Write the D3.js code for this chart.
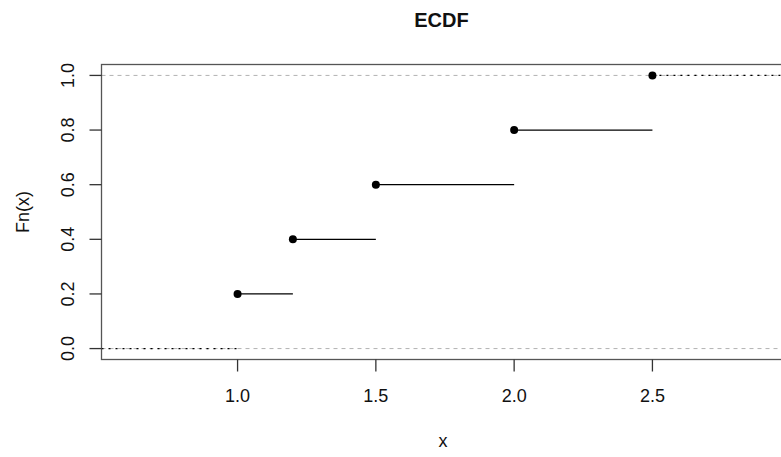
<!DOCTYPE html>
<html><head><meta charset="utf-8">
<script src="https://cdn.jsdelivr.net/npm/d3@7"></script>
<style>body{margin:0;background:#fff}svg{display:block}text{font-family:"Liberation Sans",Arial,sans-serif}</style>
</head><body>
<script>
const knots = [1.0, 1.2, 1.5, 2.0, 2.5];
const fnValues = [0.2, 0.4, 0.6, 0.8, 1.0];
const xTicks = [1.0, 1.5, 2.0, 2.5];
const yTicks = [0.0, 0.2, 0.4, 0.6, 0.8, 1.0];
const hLines = [0, 1];
const xDomain = [0.508, 2.992];
const yDomain = [-0.04, 1.04];

const W = 781, H = 457;
const svg = d3.select("body").append("svg").attr("width", W).attr("height", H);
const x = d3.scaleLinear().domain(xDomain).range([101.5, 788.5]);
const y = d3.scaleLinear().domain(yDomain).range([359.5, 64.5]);

// reference lines
svg.selectAll("line.h").data(hLines).join("line")
  .attr("x1", x(xDomain[0])).attr("x2", x(xDomain[1]))
  .attr("y1", d => y(d)).attr("y2", d => y(d))
  .attr("stroke", "#b3b3b3").attr("stroke-dasharray", "4,4").attr("stroke-width", 1);

// step segments
const segs = knots.map((k, i) => ({x0: k, x1: i < knots.length - 1 ? knots[i + 1] : null, v: fnValues[i]}))
  .filter(d => d.x1 !== null);
svg.selectAll("line.seg").data(segs).join("line")
  .attr("x1", d => x(d.x0)).attr("x2", d => x(d.x1))
  .attr("y1", d => y(d.v)).attr("y2", d => y(d.v))
  .attr("stroke", "#000").attr("stroke-width", 1.3);

// dotted extensions
const ext = [
  {x0: xDomain[0], x1: knots[0], v: 0},
  {x0: knots[knots.length - 1], x1: xDomain[1], v: fnValues[fnValues.length - 1]}
];
svg.selectAll("line.ext").data(ext).join("line")
  .attr("x1", d => x(d.x0)).attr("x2", d => x(d.x1))
  .attr("y1", d => y(d.v)).attr("y2", d => y(d.v))
  .attr("stroke", "#000").attr("stroke-width", 1.3).attr("stroke-dasharray", "2,5");

// points
svg.selectAll("circle").data(knots).join("circle")
  .attr("cx", d => x(d)).attr("cy", (d, i) => y(fnValues[i])).attr("r", 4).attr("fill", "#000");

// box
svg.append("rect").attr("x", 101.5).attr("y", 64.5).attr("width", 687).attr("height", 295)
  .attr("fill", "none").attr("stroke", "#555").attr("stroke-width", 1.3);

// x axis
const xa = svg.append("g");
xa.selectAll("line").data(xTicks).join("line")
  .attr("x1", d => x(d)).attr("x2", d => x(d)).attr("y1", 359.5).attr("y2", 371.5)
  .attr("stroke", "#333").attr("stroke-width", 1.3);
xa.selectAll("text").data(xTicks).join("text")
  .attr("x", d => x(d)).attr("y", 402).attr("text-anchor", "middle")
  .attr("font-size", 18).attr("fill", "#111").text(d => d.toFixed(1));

// y axis
const ya = svg.append("g");
ya.selectAll("line").data(yTicks).join("line")
  .attr("x1", 89.5).attr("x2", 101.5).attr("y1", d => y(d)).attr("y2", d => y(d))
  .attr("stroke", "#333").attr("stroke-width", 1.3);
ya.selectAll("text").data(yTicks).join("text")
  .attr("transform", d => `translate(74,${y(d)}) rotate(-90)`)
  .attr("text-anchor", "middle").attr("font-size", 18).attr("fill", "#111").text(d => d.toFixed(1));

// titles
svg.append("text").attr("x", 441.5).attr("y", 27).attr("text-anchor", "middle")
  .attr("font-size", 20).attr("font-weight", "bold").attr("fill", "#111").text("ECDF");
svg.append("text").attr("x", 443).attr("y", 447).attr("text-anchor", "middle")
  .attr("font-size", 18).attr("fill", "#111").text("x");
svg.append("text").attr("transform", "translate(29,212) rotate(-90)").attr("text-anchor", "middle")
  .attr("font-size", 18).attr("fill", "#111").text("Fn(x)");
</script>
</body></html>
